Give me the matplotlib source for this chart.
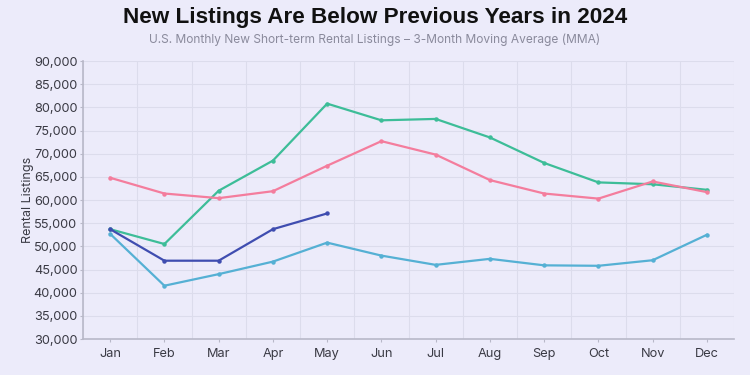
import matplotlib.pyplot as plt
from matplotlib.ticker import FuncFormatter, MultipleLocator

months = ["Jan", "Feb", "Mar", "Apr", "May", "Jun",
          "Jul", "Aug", "Sep", "Oct", "Nov", "Dec"]

green = [53700, 50500, 62000, 68500, 80800, 77200,
         77500, 73500, 68000, 63800, 63400, 62200]
pink = [64800, 61400, 60400, 61900, 67400, 72700,
        69800, 64300, 61400, 60300, 64000, 61700]
light_blue = [52700, 41500, 44000, 46700, 50800, 48000,
              46000, 47300, 45900, 45800, 47000, 52500]
dark_blue = [53700, 46900, 46900, 53700, 57100]

bg = "#ecebfa"
plt.rcParams['font.family'] = ['Inter', 'DejaVu Sans']

fig = plt.figure(figsize=(7.5, 3.75), dpi=100, facecolor=bg)
ax = fig.add_axes([0.1107, 0.096, 0.868, 0.7413], facecolor=bg)

x = range(len(months))
ax.plot(x, green, color="#3dbd98", lw=1.6, marker="o", ms=2.2, zorder=3)
ax.plot(x, pink, color="#f47d9d", lw=1.6, marker="o", ms=2.2, zorder=3)
ax.plot(x, light_blue, color="#55b0d4", lw=1.6, marker="o", ms=2.2, zorder=3)
ax.plot(range(len(dark_blue)), dark_blue, color="#3f4db0", lw=1.6,
        marker="o", ms=2.2, zorder=4)

ax.set_xlim(-0.5, 11.5)
ax.set_ylim(30000, 90000)
ax.set_xticks(list(x))
ax.set_xticklabels(months)
ax.set_xticks([i + 0.5 for i in range(-1, 12)], minor=True)
ax.yaxis.set_major_locator(MultipleLocator(5000))
ax.yaxis.set_major_formatter(FuncFormatter(lambda v, p: f"{int(v):,}"))

ax.grid(axis="y", color="#dcdcec", lw=0.8)
ax.grid(axis="x", which="minor", color="#dcdcec", lw=0.8)
ax.tick_params(axis="x", which="minor", length=0)
ax.tick_params(axis="both", which="major", colors="#b8b8c8", labelcolor="#3a3a44",
               labelsize=9.2, length=2.5, width=0.8, pad=1.5)
ax.tick_params(axis="x", pad=4)

for s in ["top", "right"]:
    ax.spines[s].set_visible(False)
for s in ["left", "bottom"]:
    ax.spines[s].set_color("#b8b8c8")
    ax.spines[s].set_linewidth(1.2)

ax.set_ylabel("Rental Listings", fontsize=9, color="#3a3a44", labelpad=0)

fig.text(0.5, 0.94, "New Listings Are Below Previous Years in 2024",
         ha="center", va="baseline", fontsize=16.2, fontweight="bold",
         color="#111111", family=["Liberation Sans", "DejaVu Sans"])
fig.text(0.5, 0.895, "U.S. Monthly New Short-term Rental Listings \u2013 3-Month Moving Average (MMA)",
         ha="center", va="center", fontsize=8.6, color="#8a8a9c")

fig.savefig("out.png", dpi=100, facecolor=bg)
